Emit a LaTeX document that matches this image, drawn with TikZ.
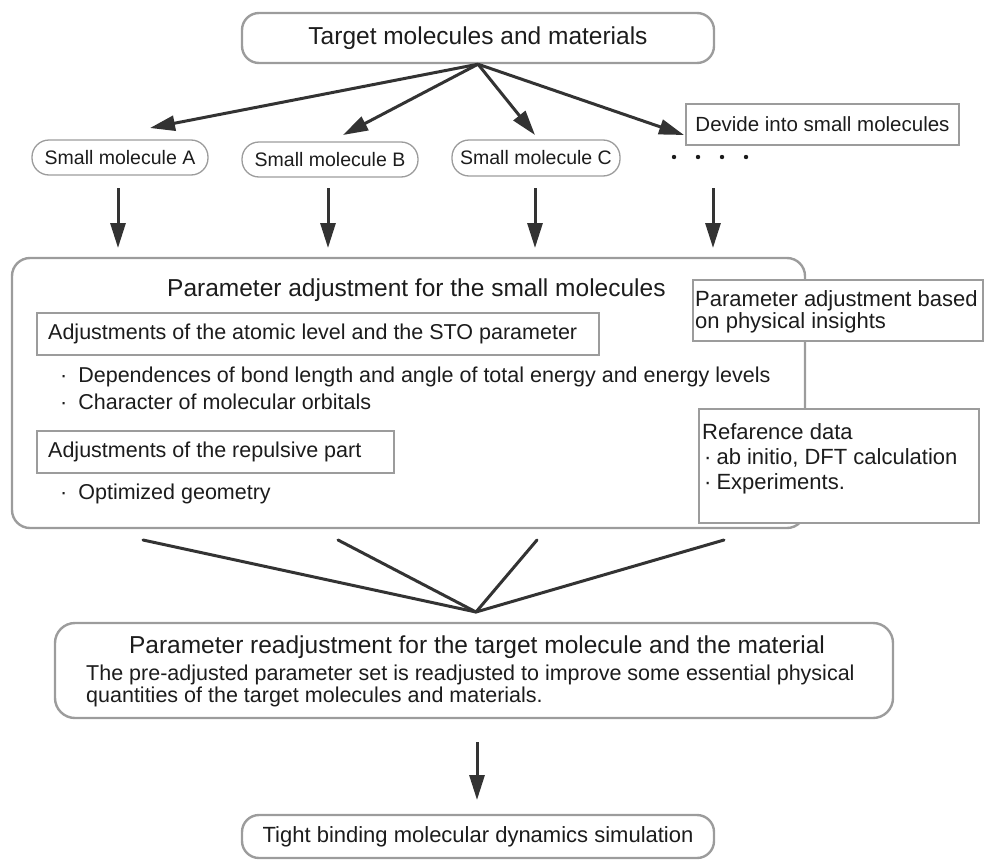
\documentclass[tikz,border=0pt]{standalone}
\usepackage{fontspec}
\setmainfont{Liberation Sans}
\usetikzlibrary{arrows.meta}
\definecolor{bord}{HTML}{9C9C9C}
\definecolor{ink}{HTML}{333333}
\definecolor{txt}{HTML}{1C1C1C}
\newcommand\szBig{\fontsize{24.5}{28}\selectfont}
\newcommand\szTB{\fontsize{22}{26}\selectfont}
\newcommand\szMid{\fontsize{21.5}{22}\selectfont}
\newcommand\szRgt{\fontsize{22}{21.5}\selectfont}
\newcommand\szRef{\fontsize{22}{25}\selectfont}
\newcommand\szSml{\fontsize{19.5}{22}\selectfont}
\newcommand\szDiv{\fontsize{20.5}{22}\selectfont}
\begin{document}
\begin{tikzpicture}[x=1pt,y=-1pt,
  every node/.style={text=txt, inner sep=0pt},
  rbox/.style={draw=bord, line width=2.4pt, rounded corners=17pt},
  pill/.style={draw=bord, line width=1.3pt, rounded corners=17pt},
  sqbox/.style={draw=bord, line width=2.4pt, fill=white},
  thinbox/.style={draw=bord, line width=1.5pt},
  arr/.style={draw=ink, line width=3pt, -{Triangle[length=25pt,width=15pt]}},
  fan/.style={draw=ink, line width=3pt, line cap=round}]
\useasboundingbox (0,0) rectangle (984,862);

% top box
\node[rbox, minimum width=472pt, minimum height=50pt, font=\szBig] (top) at (478,38) {Target molecules and materials};

% arrow tips
\coordinate (tA) at (150,128);
\coordinate (tB) at (343,135);
\coordinate (tC) at (535,135);
\coordinate (tD) at (684,135);
\foreach \n in {A,B,C,D} \draw[arr] (top.south) -- (t\n);

% small molecules
\node[pill, minimum width=176pt, minimum height=35pt, font=\szSml] (smA) at (120,157.5) {Small molecule A};
\node[pill, minimum width=176pt, minimum height=35pt, font=\szSml] (smB) at (330,159.5) {Small molecule B};
\node[pill, minimum width=168pt, minimum height=36pt, font=\szSml] (smC) at (536,158) {Small molecule C};
\node[thinbox, minimum width=273pt, minimum height=41pt, font=\szDiv] (div) at (822.5,124.5) {Devide into small molecules};
\foreach \x in {674,698,722,746} \fill[txt] (\x,157) circle (2.2pt);

% down arrows
\foreach \x/\n in {118/A,328/B,535/C,713/D} {
  \coordinate (u\n) at (\x,188);
  \coordinate (v\n) at (\x,248);
  \draw[arr] (u\n) -- (v\n);
}

% big box
\node[rbox, rounded corners=18pt, minimum width=793pt, minimum height=270pt] (big) at (408.5,393) {};
\node[font=\szBig, anchor=west] (bigT) at (167,290) {Parameter adjustment for the small molecules};
\node[sqbox, anchor=west, minimum width=562pt, minimum height=42pt] (sto) at (36,334) {};
\node[anchor=west, font=\szMid] (stoT) at (48,334) {Adjustments of the atomic level and the STO parameter};
\node[anchor=west, font=\szMid] (b1) at (60,377) {·\hspace{11pt}Dependences of bond length and angle of total energy and energy levels};
\node[anchor=west, font=\szMid] (b2) at (60,402) {·\hspace{11pt}Character of molecular orbitals};
\node[sqbox, anchor=west, minimum width=357pt, minimum height=42pt] (rep) at (36,452) {};
\node[anchor=west, font=\szMid] (repT) at (48,452) {Adjustments of the repulsive part};
\node[anchor=west, font=\szMid] (b3) at (60,494) {·\hspace{11pt}Optimized geometry};

% right boxes
\node[sqbox, anchor=north west, minimum width=290pt, minimum height=61pt] (phys) at (692,279) {};
\node[anchor=west, align=left, font=\szRgt] (physT) at (695,312) {Parameter adjustment based\\on physical insights};
\node[sqbox, anchor=north west, minimum width=280pt, minimum height=114pt] (ref) at (698,408) {};
\node[anchor=west, align=left, font=\szRef] (refT) at (702,459) {Refarence data\\\hspace*{2pt}·\hspace{5pt}ab initio, DFT calculation\\\hspace*{2pt}·\hspace{5pt}Experiments.};

% fan lines
\coordinate (f1) at (143,540);
\coordinate (f2) at (338,540);
\coordinate (f3) at (537,540);
\coordinate (f4) at (724,540);
\coordinate (apx) at (476,612);
\foreach \n in {1,2,3,4} \draw[fan] (f\n) -- (apx);

% readjustment box
\node[rbox, rounded corners=20pt, minimum width=838pt, minimum height=95pt] (re) at (474,670.5) {};
\node[font=\szBig] (reT) at (477,647) {Parameter readjustment for the target molecule and the material};
\node[anchor=west, align=left, font=\szMid] (reD) at (86,686) {The pre-adjusted parameter set is readjusted to improve some essential physical\\quantities of the target molecules and materials.};

% final arrow
\coordinate (d1) at (477,742);
\coordinate (d2) at (477,800);
\draw[arr] (d1) -- (d2);

% bottom box
\node[rbox, minimum width=472pt, minimum height=43pt, font=\szTB] (tb) at (478,836.5) {Tight binding molecular dynamics simulation};
\end{tikzpicture}
\end{document}
